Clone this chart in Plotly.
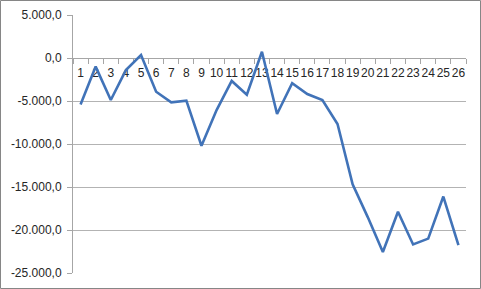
import plotly.graph_objects as go

categories = [str(i) for i in range(1, 27)]
values = [-5400, -1000, -4880, -1400, 350, -3920, -5150, -4960, -10200, -6050,
          -2670, -4270, 730, -6510, -2940, -4190, -4880, -7680, -14700, -18500,
          -22550, -17870, -21680, -21000, -16110, -21750]
y_tickvals = [5000, 0, -5000, -10000, -15000, -20000, -25000]
y_ticktext = ["5.000,0", "0,0", "-5.000,0", "-10.000,0", "-15.000,0", "-20.000,0", "-25.000,0"]

W, H = 481, 289
ml, mr, mt, mb = 73, 15, 15, 16
pw, ph = W - ml - mr, H - mt - mb

ymin, ymax = -25000, 5000

fig = go.Figure()
fig.add_trace(go.Scatter(x=categories, y=values, mode="lines",
                         line=dict(color="#4173B8", width=2.6), hoverinfo="skip"))

fig.update_layout(
    width=W, height=H,
    margin=dict(l=ml, r=mr, t=mt, b=mb, autoexpand=False),
    paper_bgcolor="white", plot_bgcolor="white",
    showlegend=False,
    font=dict(family="Liberation Sans, Arial, sans-serif", size=12, color="#262626"),
    xaxis=dict(
        type="category", anchor="free", position=(0 - ymin) / (ymax - ymin),
        showgrid=False, showline=True, linecolor="#A6A6A6", linewidth=1,
        ticks="outside", tickson="boundaries", ticklen=5, tickcolor="#A6A6A6",
        tickfont=dict(size=12), tickangle=0, automargin=False, ticklabelstandoff=4,
        range=[-0.5, 25.5], zeroline=False, layer="below traces",
    ),
    yaxis=dict(
        range=[ymin, ymax], tickvals=y_tickvals, ticktext=y_ticktext,
        showgrid=True, gridcolor="#B3B3B3", gridwidth=1,
        showline=True, linecolor="#A6A6A6", linewidth=1,
        ticks="outside", ticklen=5, tickcolor="#A6A6A6", automargin=False,
        ticklabelstandoff=3,
        zeroline=False, tickfont=dict(size=12), layer="below traces",
    ),
    shapes=[dict(
        type="rect", xref="paper", yref="paper",
        x0=(-ml + 0.5) / pw, x1=1 + (mr - 0.5) / pw,
        y0=(-mb + 0.5) / ph, y1=1 + (mt - 0.5) / ph,
        line=dict(color="#868686", width=1), layer="below",
    )],
)

fig.write_html("out.html")
